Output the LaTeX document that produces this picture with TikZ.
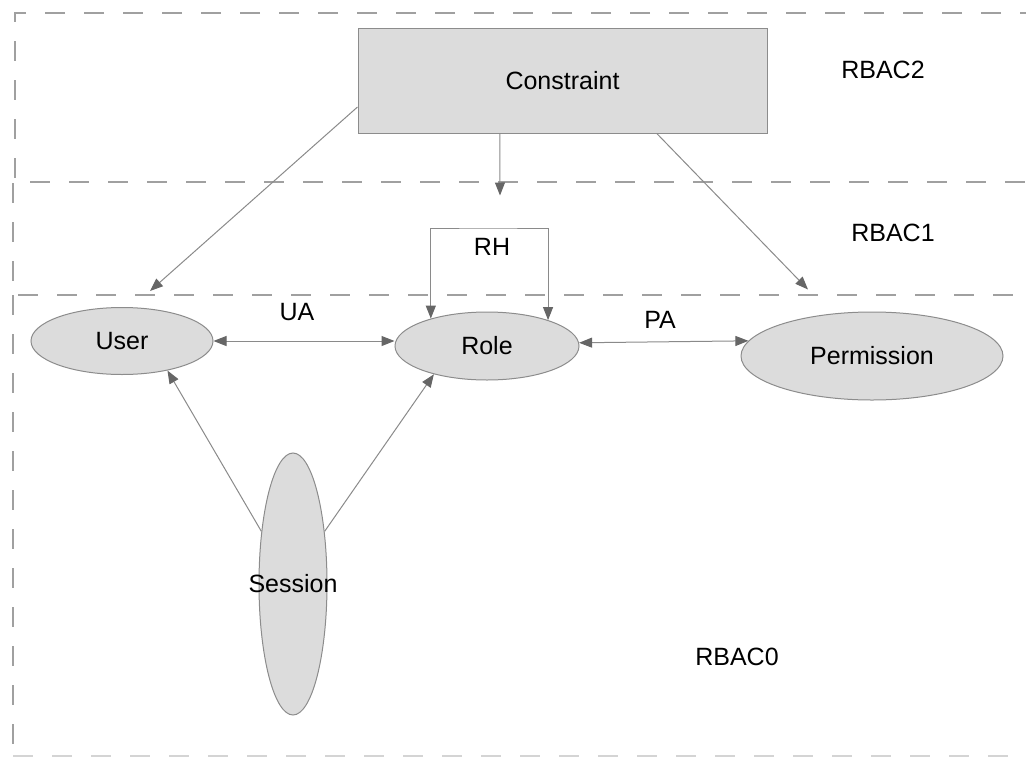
\documentclass[tikz,border=0pt]{standalone}
\usepackage{fontspec}
\setmainfont{Liberation Sans}
\usetikzlibrary{arrows.meta,shapes.geometric,calc}
\definecolor{framegray}{HTML}{A0A0A0}
\definecolor{edgegray}{HTML}{8A8A8A}
\definecolor{tipgray}{HTML}{666666}
\definecolor{boxfill}{HTML}{DCDCDC}
\definecolor{boxline}{HTML}{8C8C8C}

\begin{document}
\begin{tikzpicture}[x=1pt,y=-1pt,
  every node/.style={font=\fontsize{25}{30}\selectfont},
  frame/.style={draw=framegray,line width=1.8pt,dash pattern=on 20pt off 19pt},
  entity/.style={ellipse,draw=boxline,fill=boxfill,line width=1pt,inner sep=0pt},
  tipshape/.style={},
  link/.style={draw=edgegray,line width=1pt,-{Triangle[length=13pt,width=10pt,color=tipgray]}},
  both/.style={link,{Triangle[length=13pt,width=10pt,color=tipgray]}-{Triangle[length=13pt,width=10pt,color=tipgray]}},
  caption/.style={inner sep=0pt}]

\useasboundingbox (0,0) rectangle (1026,761);
\clip (0,0) rectangle (1026,761);

% layer frames: RBAC2 (top), RBAC1 (middle), RBAC0 (bottom)
\draw[frame] (1040,13) -- (15,13) -- (15,182) -- (1040,182);
\draw[frame] (13,183) -- (13,295) -- (1040,295);
\draw[frame] (13,295) -- (13,756);
\draw[frame,draw=framegray!45] (13,756) -- (1040,756);

% entities
\node[rectangle,draw=boxline,fill=boxfill,line width=1pt,
      minimum width=409pt,minimum height=105pt] (con) at (562.5,80.5) {Constraint};
\node[entity,minimum width=182pt,minimum height=67pt] (user) at (122,341) {User};
\node[entity,minimum width=184pt,minimum height=68pt] (role) at (487,346) {Role};
\node[entity,minimum width=262pt,minimum height=88pt] (perm) at (872,356) {Permission};
\node[entity,minimum width=68pt,minimum height=262pt] (sess) at (293,584) {};
\node[caption] (sesstext) at (sess.center) {Session};

% layer and relation labels
\node[caption] (rbac2) at (883,70) {RBAC2};
\node[caption] (rbac1) at (893,233) {RBAC1};
\node[caption] (rbac0) at (737,657) {RBAC0};
\node[caption] (ua) at (297,312) {UA};
\node[caption] (pa) at (660,320) {PA};
\node[caption] (rh) at (492,247) {RH};

% loose ends of the constraint arrows
\coordinate (uaTip) at ($(user.north)+(28,-16)$);
\coordinate (paTip) at ($(perm.north)+(-64,-22)$);
\coordinate (rhTip) at ($(con.south)+(-62.5,62)$);
\coordinate (rhTop) at ($(role.center)+(0,-118)$);

% constraint arrows
\draw[link] ($(con.north west)!0.75!(con.south west)$) -- (uaTip);
\draw[link] ($(con.south west)!0.73!(con.south east)$) -- (paTip);
\draw[link] ($(con.south west)!0.347!(con.south east)$) -- (rhTip);

% role hierarchy loop
\draw[both] (role.154) |- (rhTop) -| (role.23);

% assignments
\draw[both] (user.east) -- (user.east -| role.west);
\draw[both] (role.2) -- (perm.173);

% session links
\draw[link] (sess.121) -- (user.-33);
\draw[link] (sess.59) -- (role.208);
\end{tikzpicture}
\end{document}
